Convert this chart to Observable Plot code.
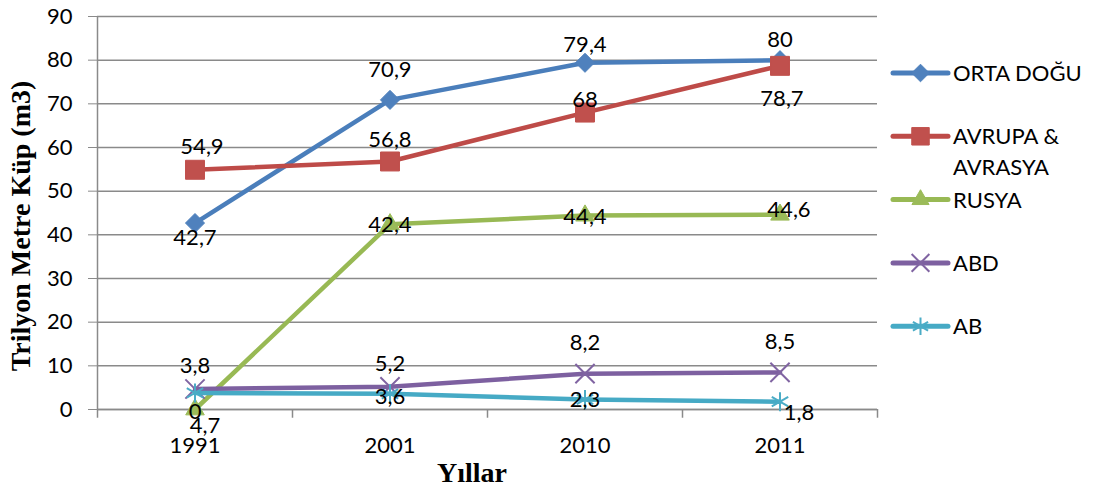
<!DOCTYPE html>
<html>
<head>
<meta charset="utf-8">
<script src="https://cdn.jsdelivr.net/npm/d3@7"></script>
<script src="https://cdn.jsdelivr.net/npm/@observablehq/plot@0.6"></script>
<style>
  html, body { margin: 0; padding: 0; background: #fff; }
  #wrap { position: relative; width: 1100px; height: 491px; overflow: hidden; background: #fff; }
  #wrap svg.overlay { position: absolute; left: 0; top: 0; pointer-events: none; }
</style>
</head>
<body>
<div id="wrap"></div>
<script>
// ---- data ----
const years = ["1991", "2001", "2010", "2011"];
const seriesNames = ["ORTA DOĞU", "AVRUPA & AVRASYA", "RUSYA", "ABD", "AB"];
const ortaDogu = [42.7, 70.9, 79.4, 80];
const avrupaAvrasya = [54.9, 56.8, 68, 78.7];
const rusya = [0, 42.4, 44.4, 44.6];
const abd = [4.7, 5.2, 8.2, 8.5];
const ab = [3.8, 3.6, 2.3, 1.8];
const yTicks = [0, 10, 20, 30, 40, 50, 60, 70, 80, 90];
const yTitle = "Trilyon Metre Küp (m3)";
const xTitle = "Yıllar";

// ---- styles ----
const lineColors = ["#4A7EBB", "#BE4B48", "#98B954", "#7D60A0", "#46AAC5"];
const markerColors = ["#4F81BD", "#C0504D", "#9BBB59", "#8064A2", "#4BACC6"];
const symbols = ["diamond2", "square", "triangle", "times", "asterisk"];
const symbolR = [8.6, 10.7, 6.9, 8.8, 9];
const filled = [true, true, true, false, false];
// data label offsets [dx, dy] (label placement, Excel-style)
const labelOffsets = [
  [[0, 15], [0, -30], [0, -18], [0, -20]],
  [[7, -23], [0, -22], [0, -13], [2, 33]],
  [[0, 2], [0, 1], [0, 1], [9, -5]],
  [[10, 37], [0, -23], [0, -31], [0, -30]],
  [[0, -27], [0, 3], [0, 0], [19, 11]]
];

const allValues = [ortaDogu, avrupaAvrasya, rusya, abd, ab];
const rows = [];
allValues.forEach((vals, s) => vals.forEach((v, i) => rows.push({series: seriesNames[s], s, i, year: years[i], value: v})));
const fmt = v => String(v).replace(".", ",");

const W = 1100, H = 491, mL = 97, mR = 223, mT = 16, mB = 82;
const half = (W - mL - mR) / years.length / 2;
const gridColor = "#8a8a8a";
const font = "Lato";

const marks = [
  Plot.gridY({ticks: yTicks, stroke: gridColor, strokeOpacity: 1, strokeWidth: 1.5}),
  Plot.axisY({ticks: yTicks, tickSize: 9, tickPadding: 16, stroke: gridColor, fill: "#000", fontSize: 22, label: null}),
  Plot.axisX({tickSize: 0, tickPadding: 28, fill: "#000", fontSize: 22, label: null}),
  Plot.ruleX([years[0]], {dx: -half, y1: 0, y2: yTicks[yTicks.length - 1], stroke: gridColor, strokeWidth: 1.5}),
  Plot.ruleY([0], {stroke: gridColor, strokeWidth: 1.5}),
  Plot.ruleX(years, {dx: -half, y1: 0, y2: -2, stroke: gridColor, strokeWidth: 1.5}),
  Plot.ruleX([years[years.length - 1]], {dx: half, y1: 0, y2: -2, stroke: gridColor, strokeWidth: 1.5})
];

seriesNames.forEach((name, s) => {
  const d = rows.filter(r => r.s === s);
  marks.push(Plot.line(d, {x: "year", y: "value", stroke: lineColors[s], strokeWidth: 4.5, strokeLinejoin: "round", strokeLinecap: "round"}));
  marks.push(Plot.dot(d, {
    x: "year", y: "value", symbol: symbols[s], r: symbolR[s],
    fill: filled[s] ? markerColors[s] : "none",
    stroke: markerColors[s], strokeWidth: filled[s] ? 1 : 2
  }));
});

rows.forEach(r => {
  const [dx, dy] = labelOffsets[r.s][r.i];
  marks.push(Plot.text([r], {x: "year", y: "value", text: d => fmt(d.value), dx, dy, fontSize: 22, fill: "#000", lineAnchor: "middle", textAnchor: "middle"}));
});

const chart = Plot.plot({
  width: W, height: H,
  marginLeft: mL, marginRight: mR, marginTop: mT, marginBottom: mB,
  style: {fontFamily: font, background: "#fff", color: "#000"},
  x: {type: "band", domain: years, padding: 0},
  y: {domain: [0, 90]},
  marks
});
const wrap = document.getElementById("wrap");
wrap.appendChild(chart);

// ---- overlay: axis titles + legend ----
const ov = d3.select(wrap).append("svg").attr("class", "overlay").attr("width", W).attr("height", H);
ov.append("text").attr("transform", "translate(30,226) rotate(-90)")
  .attr("text-anchor", "middle").style("font", "bold 28px 'Liberation Serif'").text(yTitle);
ov.append("text").attr("x", 472).attr("y", 482)
  .attr("text-anchor", "middle").style("font", "bold 28px 'Liberation Serif'").text(xTitle);

const lg = ov.append("g");
const legendX0 = 893, legendX1 = 948, legendTextX = 953, legendY0 = 73, legendStep = 63.3;
const symMap = {diamond2: d3.symbolDiamond2, square: d3.symbolSquare, triangle: d3.symbolTriangle, times: d3.symbolTimes, asterisk: d3.symbolAsterisk};
seriesNames.forEach((name, s) => {
  const y = legendY0 + s * legendStep;
  lg.append("line").attr("x1", legendX0).attr("x2", legendX1).attr("y1", y).attr("y2", y)
    .attr("stroke", lineColors[s]).attr("stroke-width", 5).attr("stroke-linecap", "round");
  lg.append("path").attr("transform", `translate(${(legendX0 + legendX1) / 2},${y})`)
    .attr("d", d3.symbol(symMap[symbols[s]], Math.PI * symbolR[s] * symbolR[s] * 0.85)())
    .attr("fill", filled[s] ? markerColors[s] : "none")
    .attr("stroke", markerColors[s]).attr("stroke-width", filled[s] ? 1 : 2);
  const words = name === "AVRUPA & AVRASYA" ? ["AVRUPA &", "AVRASYA"] : [name];
  const t = lg.append("text").attr("x", legendTextX).attr("y", y)
    .style("font", `22px ${font}`).attr("fill", "#000");
  words.forEach((w, k) => t.append("tspan").attr("x", legendTextX).attr("dy", k === 0 ? "0.36em" : "1.4em").text(w));
});
</script>
</body>
</html>
